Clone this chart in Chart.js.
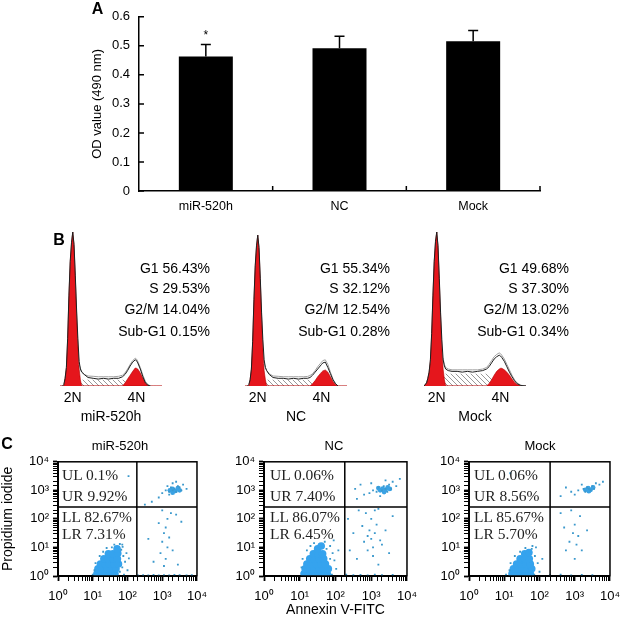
<!DOCTYPE html>
<html>
<head>
<meta charset="utf-8">
<script src="https://cdn.jsdelivr.net/npm/chart.js@4.4.1/dist/chart.umd.min.js"></script>
<style>
body { margin: 0; background: #fff; }
#fig { position: relative; width: 628px; height: 626px; overflow: hidden; font-family: Arial, 'Liberation Sans', sans-serif; color: #000; background: #fff; }
#fig canvas { position: absolute; }
.txt { position: absolute; white-space: nowrap; line-height: 1; }
.letter { font-weight: bold; font-size: 16px; transform: translate(-50%, -50%); }
.pct { font-size: 14px; transform: translate(-100%, -50%); }
.quad { font-family: 'Liberation Serif', 'Times New Roman', serif; font-size: 15.5px; color: #222; transform: translateY(-50%); }
.ctitle { font-size: 13px; transform: translate(-50%, -50%); }
</style>
</head>
<body>
<div id="fig">
  <canvas id="barA" width="628" height="240" style="left:0;top:0"></canvas>
  <canvas id="histMiR" width="110" height="203" style="left:56px;top:228px"></canvas>
  <canvas id="histNC" width="110" height="203" style="left:241px;top:228px"></canvas>
  <canvas id="histMock" width="110" height="203" style="left:420px;top:228px"></canvas>
  <canvas id="flowMiR" width="215" height="176" style="left:0;top:450px"></canvas>
  <canvas id="flowNC" width="210" height="176" style="left:215px;top:450px"></canvas>
  <canvas id="flowMock" width="203" height="176" style="left:425px;top:450px"></canvas>
</div>
<script>
// ---------- A: OD values ----------
const groups = ['miR-520h', 'NC', 'Mock'];
const odMean = [0.463, 0.492, 0.516];
const odErr = [0.042, 0.041, 0.037];
const odSig = ['*', '', ''];

// ---------- B: DNA histograms (channel, relative count) ----------
const histCh = [40, 42, 43, 44, 45, 46, 47, 48, 49, 50, 51, 52, 53, 54, 55, 56, 57, 59, 62, 66, 70, 74, 78, 82, 86, 89, 91, 93, 95, 97, 99, 100, 101, 103, 105, 107, 109, 111, 113, 116, 120];
const histTickPos = [50, 100];
const histTickText = ['2N', '4N'];

const outlineMiR = [null, 0, 1, 5, 12, 31, 59, 81, 93, 100, 92, 72, 50, 31, 16, 11, 9, 7.5, 5.5, 5, 4.5, 5, 4.5, 5, 5, 6, 7.5, 10, 13, 15.5, 17, 16.5, 15, 11, 6, 2, 0.5, 0, null, null, null];
const fitMiR = [null, null, null, null, null, null, null, null, null, null, null, null, null, null, 14, 11.5, 9.5, 7.5, 6.5, 6.3, 6, 6, 6, 6, 6.3, 7, 8.5, 11, 14, 16.5, 18, 17.5, 16, 12, 7, 3, 1, 0, null, null, null];
const g1MiR = [0, 0, 0, 5, 12, 30, 58, 80, 92, 100, 91, 70, 47, 27, 11, 4, 0, 0, 0, 0, 0, 0, 0, 0, 0, 0, 0, 0, 0, 0, 0, 0, 0, 0, 0, 0, 0, 0, 0, 0, 0];
const g2MiR = [0, 0, 0, 0, 0, 0, 0, 0, 0, 0, 0, 0, 0, 0, 0, 0, 0, 0, 0, 0, 0, 0, 0, 0, 0, 0, 2, 4.5, 7, 9.5, 11.7, 11.5, 11, 8.5, 5, 2, 0.3, 0, 0, 0, 0];
const sMiR = [0, 0, 0, 0, 0, 0, 0, 0, 0, 0, 0, 0, 3, 4, 4, 4, 4, 4, 4, 4, 4, 4, 4, 4, 4, 4, 3.8, 3, 2, 1, 0.3, 0, 0, 0, 0, 0, 0, 0, 0, 0, 0];

const outlineNC = [null, 0, 1, 4, 11, 29, 56, 78, 91, 98, 90, 70, 48, 30, 17, 12, 10, 7.5, 5.5, 5, 5, 4.5, 5, 4.5, 5, 5, 5.5, 7, 9, 11, 13, 14, 15, 15.5, 12, 8, 4, 1.5, 0, null, null];
const fitNC = [null, null, null, null, null, null, null, null, null, null, null, null, null, null, 15, 12, 10, 8, 6.5, 6.3, 6, 6, 6, 6, 6, 6.2, 6.8, 8, 10, 12.5, 14.5, 15.5, 16.5, 17, 14, 9, 4.5, 1.5, 0, null, null];
const g1NC = [0, 0, 0, 4, 11, 28, 55, 77, 90, 98, 89, 68, 45, 25, 10, 4, 0, 0, 0, 0, 0, 0, 0, 0, 0, 0, 0, 0, 0, 0, 0, 0, 0, 0, 0, 0, 0, 0, 0, 0, 0];
const g2NC = [0, 0, 0, 0, 0, 0, 0, 0, 0, 0, 0, 0, 0, 0, 0, 0, 0, 0, 0, 0, 0, 0, 0, 0, 0, 0, 0, 1.5, 3.5, 6, 8, 9, 9.8, 10.4, 9, 6, 3, 1, 0, 0, 0];
const sNC = [0, 0, 0, 0, 0, 0, 0, 0, 0, 0, 0, 0, 3, 4, 4, 4, 4, 4, 4, 4, 4, 4, 4, 4, 4, 4, 4, 3.6, 2.8, 2, 1, 0.6, 0.3, 0, 0, 0, 0, 0, 0, 0, 0];

const outlineMock = [0, 2, 5, 9, 17, 34, 59, 81, 94, 100, 91, 70, 48, 30, 17, 13, 11, 10, 9.5, 9.5, 9, 9.5, 9, 9.5, 10, 11, 12.5, 15, 17.5, 19, 20, 19.5, 18.5, 16, 12.5, 9, 6, 3.5, 1.5, 0.3, 0];
const fitMock = [null, null, null, null, null, null, null, null, null, null, null, null, null, null, 18, 14, 12, 11, 10.5, 10.5, 10.5, 10.5, 10.5, 10.5, 11, 12, 14, 16.5, 19, 20.5, 21.5, 21, 20, 17.5, 14, 10.5, 7, 4, 2, 0.5, 0];
const g1Mock = [0, 2, 5, 9, 16, 33, 58, 80, 93, 100, 90, 68, 45, 25, 11, 4, 0, 0, 0, 0, 0, 0, 0, 0, 0, 0, 0, 0, 0, 0, 0, 0, 0, 0, 0, 0, 0, 0, 0, 0, 0];
const g2Mock = [0, 0, 0, 0, 0, 0, 0, 0, 0, 0, 0, 0, 0, 0, 0, 0, 0, 0, 0, 0, 0, 0, 0, 0, 0, 0, 1.5, 4, 7, 9.5, 11, 11.5, 11.5, 10.5, 9, 7, 4.5, 2.5, 1, 0, 0];
const sMock = [0, 0, 0, 0, 0, 0, 0, 0, 0, 0, 0, 0, 4, 7, 8, 8, 8, 8, 8, 8, 8, 8, 8, 8, 8, 8, 7, 5.5, 4, 2.5, 1.2, 0.8, 0.4, 0, 0, 0, 0, 0, 0, 0, 0];

const phaseNames = ['G1', 'S', 'G2/M', 'Sub-G1'];
const phaseMiR = ['56.43%', '29.53%', '14.04%', '0.15%'];
const phaseNC = ['55.34%', '32.12%', '12.54%', '0.28%'];
const phaseMock = ['49.68%', '37.30%', '13.02%', '0.34%'];

// ---------- C: Annexin V / PI (log10 exponents) ----------
const logTicks = ['10⁰', '10¹', '10²', '10³', '10⁴'];
const quadNames = ['UL', 'UR', 'LL', 'LR'];
const quadMiR = ['0.1%', '9.92%', '82.67%', '7.31%'];
const quadNC = ['0.06%', '7.40%', '86.07%', '6.45%'];
const quadMock = ['0.06%', '8.56%', '85.67%', '5.70%'];
const gateX = [186, 182, 200];
const gateY = 263;

// dense live-cell cloud (big marks), UR cluster core (medium), single events (small)
const coreMiR = [[1.12, 0.08], [1.25, 0.08], [1.38, 0.08], [1.51, 0.08], [1.64, 0.08], [1.15, 0.25], [1.28, 0.25], [1.41, 0.25], [1.54, 0.25], [1.67, 0.25],
  [1.22, 0.42], [1.35, 0.42], [1.48, 0.42], [1.61, 0.42], [1.74, 0.42], [1.32, 0.6], [1.45, 0.6], [1.58, 0.6], [1.71, 0.6], [1.45, 0.78], [1.58, 0.78], [1.72, 0.8], [1.7, 0.95]];
const urMiR = [[3.22, 3.0], [3.3, 3.05], [3.38, 2.98], [3.45, 3.08], [3.3, 2.92], [3.5, 3.0]];
const dotsMiR = [[1.05, 0.2], [1.08, 0.45], [1.2, 0.7], [1.3, 0.85], [1.4, 0.98], [1.55, 1.0], [1.82, 0.92], [1.88, 0.7], [1.93, 0.5], [1.85, 0.3], [1.97, 0.8], [1.85, 1.1], [1.62, 1.1], [2.0, 0.2], [1.0, 0.05], [1.78, 0.15], [1.9, 0.05], [1.86, 1.02], [1.78, 1.12], [2.04, 0.62],
  [2.3, 0.02], [2.45, 0.03], [2.6, 0.02], [2.75, 0.04], [2.9, 0.02], [3.05, 0.03], [3.2, 0.02], [3.35, 0.04], [3.5, 0.03], [3.7, 0.02], [3.85, 0.03],
  [3.05, 0.35], [3.1, 0.6], [2.95, 0.8], [3.15, 1.0], [3.0, 1.2], [3.2, 1.35], [3.05, 1.5], [3.1, 1.7], [2.9, 1.85], [3.15, 2.0], [3.25, 2.2], [3.0, 2.3], [3.4, 2.15], [3.55, 1.9], [2.75, 0.5], [2.6, 1.3], [3.3, 0.9], [3.45, 0.4],
  [2.9, 2.75], [3.0, 2.9], [3.1, 3.0], [3.2, 2.95], [3.25, 3.1], [3.3, 3.0], [3.35, 3.05], [3.4, 2.95], [3.45, 3.15], [3.5, 3.1], [3.55, 3.0], [3.6, 3.2], [3.15, 3.15], [3.3, 3.25], [3.7, 3.05], [3.2, 2.85], [3.4, 3.3], [2.7, 2.6], [2.5, 2.5],
  [2.03, 3.5]];

const coreNC = [[1.12, 0.08], [1.25, 0.08], [1.38, 0.08], [1.51, 0.08], [1.64, 0.08], [1.77, 0.08], [1.15, 0.25], [1.28, 0.25], [1.41, 0.25], [1.54, 0.25], [1.67, 0.25], [1.8, 0.25],
  [1.2, 0.42], [1.33, 0.42], [1.46, 0.42], [1.59, 0.42], [1.72, 0.42], [1.28, 0.6], [1.41, 0.6], [1.54, 0.6], [1.67, 0.6], [1.38, 0.78], [1.51, 0.78], [1.64, 0.78], [1.5, 0.95], [1.6, 1.05]];
const urNC = [[3.25, 3.0], [3.32, 3.06], [3.4, 3.02], [3.46, 3.1], [3.36, 2.94], [3.52, 3.05], [3.2, 3.08]];
const dotsNC = [[1.05, 0.3], [1.08, 0.6], [1.2, 0.9], [1.4, 1.15], [1.7, 1.2], [1.85, 1.05], [1.92, 0.8], [1.97, 0.55], [2.02, 0.25], [1.95, 1.25], [1.9, 0.05], [1.75, 0.95], [1.85, 0.6], [2.08, 0.9], [1.3, 1.05],
  [2.3, 0.05], [2.5, 0.03], [2.7, 0.04], [2.9, 0.02], [3.1, 0.05], [3.3, 0.03], [3.6, 0.04], [2.4, 0.9], [2.5, 1.5], [2.35, 2.0], [2.6, 0.6], [2.8, 1.2], [2.9, 1.4], [2.95, 1.6], [3.0, 1.3], [3.05, 1.0], [3.1, 1.5], [3.15, 1.8], [3.0, 2.0], [2.85, 2.2], [3.2, 2.35], [3.05, 0.7], [3.2, 0.4], [3.3, 1.1], [3.4, 1.6], [3.5, 0.8], [3.6, 2.1], [2.75, 1.75], [2.9, 0.9], [3.1, 2.3], [3.25, 1.25], [2.65, 2.3],
  [2.6, 2.7], [2.8, 2.85], [2.95, 2.9], [3.05, 3.0], [3.15, 2.95], [3.2, 3.1], [3.3, 3.0], [3.35, 3.15], [3.4, 3.05], [3.45, 2.95], [3.5, 3.2], [3.55, 3.05], [3.6, 3.3], [3.7, 3.15], [3.8, 3.4], [2.7, 3.2], [2.55, 3.05], [3.25, 2.8], [3.4, 3.35], [3.0, 3.25]];

const coreMock = [[1.22, 0.08], [1.35, 0.08], [1.48, 0.08], [1.61, 0.08], [1.74, 0.08], [1.26, 0.25], [1.39, 0.25], [1.52, 0.25], [1.65, 0.25], [1.78, 0.25],
  [1.35, 0.42], [1.48, 0.42], [1.61, 0.42], [1.74, 0.42], [1.45, 0.6], [1.58, 0.6], [1.71, 0.6], [1.58, 0.78], [1.7, 0.82]];
const urMock = [[3.3, 3.02], [3.38, 3.08], [3.45, 3.02], [3.52, 3.1], [3.4, 2.97]];
const dotsMock = [[1.15, 0.2], [1.18, 0.45], [1.3, 0.7], [1.45, 0.85], [1.6, 0.98], [1.78, 0.95], [1.87, 0.7], [1.95, 0.45], [2.0, 0.15], [1.9, 1.0], [2.08, 0.6], [1.05, 0.05], [1.85, 0.05], [1.8, 1.05],
  [2.3, 0.03], [2.6, 0.05], [2.9, 0.02], [3.2, 0.04], [3.5, 0.03], [2.75, 0.9], [2.85, 1.2], [2.95, 1.5], [3.0, 1.8], [3.1, 1.4], [3.05, 1.1], [3.2, 0.9], [2.7, 1.7], [3.15, 2.1], [2.9, 2.3], [3.35, 1.6], [2.6, 2.2], [3.0, 0.6],
  [2.6, 2.8], [2.9, 2.95], [3.1, 3.0], [3.25, 3.05], [3.3, 2.95], [3.35, 3.1], [3.4, 3.05], [3.45, 3.0], [3.5, 3.15], [3.55, 3.05], [3.6, 3.25], [3.7, 3.2], [3.2, 3.2], [3.0, 2.85], [3.8, 3.3], [2.75, 3.1],
  [1.17, 3.6]];

Chart.defaults.font.family = "Arial, 'Liberation Sans', sans-serif";
Chart.defaults.color = '#000';

const fig = document.getElementById('fig');
function addText(cls, text, x, y) {
  const d = document.createElement('div');
  d.className = 'txt ' + cls;
  d.textContent = text;
  d.style.left = x + 'px';
  d.style.top = y + 'px';
  fig.appendChild(d);
}

// ---------- panel A ----------
const innerTicks = {
  id: 'innerTicks',
  afterDraw(chart) {
    const {ctx, chartArea: a, scales: {x, y}} = chart;
    const step = x.getPixelForValue(1) - x.getPixelForValue(0);
    ctx.save();
    ctx.strokeStyle = '#000';
    ctx.lineWidth = 1.5;
    ctx.beginPath();
    y.ticks.forEach(t => {
      const py = y.getPixelForValue(t.value);
      ctx.moveTo(a.left, py);
      ctx.lineTo(a.left + 5, py);
    });
    groups.forEach((g, i) => {
      const px = x.getPixelForValue(i) + step / 2;
      ctx.moveTo(px, a.bottom);
      ctx.lineTo(px, a.bottom - 5);
    });
    ctx.stroke();
    ctx.restore();
  }
};

const errorBars = {
  id: 'errorBars',
  afterDatasetsDraw(chart) {
    const {ctx, scales: {y}} = chart;
    ctx.save();
    ctx.strokeStyle = '#000';
    ctx.fillStyle = '#000';
    ctx.lineWidth = 1.5;
    chart.getDatasetMeta(0).data.forEach((bar, i) => {
      const top = y.getPixelForValue(odMean[i] + odErr[i]);
      ctx.beginPath();
      ctx.moveTo(bar.x, bar.y);
      ctx.lineTo(bar.x, top);
      ctx.moveTo(bar.x - 5, top);
      ctx.lineTo(bar.x + 5, top);
      ctx.stroke();
      if (odSig[i]) {
        ctx.font = "12px Arial, 'Liberation Sans', sans-serif";
        ctx.textAlign = 'center';
        ctx.fillText(odSig[i], bar.x, top - 5);
      }
    });
    ctx.restore();
  }
};

new Chart(document.getElementById('barA'), {
  type: 'bar',
  data: {
    labels: groups,
    datasets: [{
      data: odMean,
      backgroundColor: '#000',
      categoryPercentage: 1,
      barPercentage: 0.404
    }]
  },
  options: {
    responsive: false,
    animation: false,
    layout: {padding: {top: 7, right: 88, left: 0, bottom: 0}},
    plugins: {legend: {display: false}, tooltip: {enabled: false}},
    scales: {
      x: {
        grid: {display: false, drawTicks: false},
        border: {display: true, color: '#000', width: 1.5},
        ticks: {padding: 8, font: {size: 12.5}},
        afterFit: s => { s.height = 49; }
      },
      y: {
        min: 0,
        max: 0.6,
        grid: {display: false, drawTicks: false},
        border: {display: true, color: '#000', width: 1.5},
        ticks: {stepSize: 0.1, padding: 9, font: {size: 13}},
        title: {display: true, text: 'OD value (490 nm)', font: {size: 13}, padding: {top: 90, bottom: 0}},
        afterFit: s => { s.width = 139; }
      }
    }
  },
  plugins: [innerTicks, errorBars]
});

// ---------- panel B ----------
function hatch() {
  const c = document.createElement('canvas');
  c.width = 5;
  c.height = 5;
  const g = c.getContext('2d');
  g.strokeStyle = '#8c8c8c';
  g.lineWidth = 0.9;
  g.beginPath();
  g.moveTo(0, 0); g.lineTo(5, 5);
  g.moveTo(-1, 4); g.lineTo(1, 6);
  g.moveTo(4, -1); g.lineTo(6, 1);
  g.stroke();
  return g.createPattern(c, 'repeat');
}

function histChart(id, title, outline, fit, g1, g2, s) {
  const pts = arr => histCh.map((c, i) => ({x: c, y: arr[i]}));
  return new Chart(document.getElementById(id), {
    type: 'line',
    data: {
      datasets: [
        {data: pts(outline), borderColor: '#1e1e1e', borderWidth: 1, fill: false},
        {data: pts(fit), borderColor: '#a0a0a0', borderWidth: 1, fill: false},
        {data: pts(g1), borderColor: '#b30000', borderWidth: 0.6, backgroundColor: '#e5161c', fill: 'origin'},
        {data: pts(g2), borderColor: '#b30000', borderWidth: 0.6, backgroundColor: '#e5161c', fill: 'origin'},
        {data: pts(s), borderColor: 'rgba(0,0,0,0)', borderWidth: 0, backgroundColor: hatch(), fill: 'origin'}
      ]
    },
    options: {
      responsive: false,
      animation: false,
      layout: {padding: {left: 4, right: 4, top: 4, bottom: 0}},
      plugins: {legend: {display: false}, tooltip: {enabled: false}},
      elements: {point: {radius: 0}, line: {tension: 0}},
      scales: {
        x: {
          type: 'linear',
          min: 40,
          max: 120,
          grid: {display: false, drawTicks: false},
          border: {display: false},
          afterBuildTicks: sc => { sc.ticks = histTickPos.map(v => ({value: v})); },
          afterFit: sc => { sc.height = 45; },
          ticks: {padding: 4, font: {size: 14}, callback: v => histTickText[histTickPos.indexOf(v)]},
          title: {display: true, text: title, font: {size: 14}, padding: {top: 0, bottom: 5}}
        },
        y: {display: false, min: 0, max: 100}
      }
    }
  });
}

histChart('histMiR', groups[0], outlineMiR, fitMiR, g1MiR, g2MiR, sMiR);
histChart('histNC', groups[1], outlineNC, fitNC, g1NC, g2NC, sNC);
histChart('histMock', groups[2], outlineMock, fitMock, g1Mock, g2Mock, sMock);

const phaseRight = [210, 390, 569];
const phaseY = [268, 288, 308.5, 331];
[phaseMiR, phaseNC, phaseMock].forEach((vals, k) => {
  vals.forEach((v, i) => addText('pct', phaseNames[i] + ' ' + v, phaseRight[k], phaseY[i]));
});

// ---------- panel C ----------
function isDecade(v) {
  const e = Math.round(Math.log10(v));
  return Math.abs(v - Math.pow(10, e)) < 1e-9 * Math.pow(10, e);
}
function logLabel(v) {
  return isDecade(v) ? logTicks[Math.round(Math.log10(v))] : '';
}
function logAxis(extra) {
  return Object.assign({
    type: 'logarithmic',
    min: 1,
    max: 10000,
    grid: {
      display: true, drawOnChartArea: false, drawTicks: true, tickLength: 5,
      color: '#000', tickColor: '#000',
      tickWidth: c => (c.tick && isDecade(c.tick.value)) ? 1.8 : 1
    },
    border: {display: true, color: '#000', width: 2}
  }, extra);
}

const quadLines = {
  id: 'quadLines',
  afterDatasetsDraw(chart, args, opts) {
    const {ctx, chartArea: a, scales: {x, y}} = chart;
    const px = x.getPixelForValue(opts.gx);
    const py = y.getPixelForValue(opts.gy);
    ctx.save();
    ctx.strokeStyle = '#000';
    ctx.lineWidth = 1.5;
    ctx.strokeRect(a.left, a.top, a.right - a.left, a.bottom - a.top);
    ctx.beginPath();
    ctx.moveTo(px, a.top); ctx.lineTo(px, a.bottom);
    ctx.moveTo(a.left, py); ctx.lineTo(a.right, py);
    ctx.stroke();
    ctx.restore();
  }
};

function flowChart(id, core, ur, dots, gx, yWidth, rightPad, yTitle, xTitle) {
  const toPts = arr => arr.map(p => ({x: Math.pow(10, p[0]), y: Math.pow(10, p[1])}));
  return new Chart(document.getElementById(id), {
    type: 'scatter',
    data: {
      datasets: [
        {data: toPts(dots), pointRadius: 1.3, pointStyle: 'rect', backgroundColor: '#3a98cc', borderWidth: 0},
        {data: toPts(ur), pointRadius: 2.4, backgroundColor: '#3aa2e4', borderWidth: 0},
        {data: toPts(core), pointRadius: 3.8, backgroundColor: '#35a3ee', borderWidth: 0}
      ]
    },
    options: {
      responsive: false,
      animation: false,
      layout: {padding: {top: 8, right: rightPad, left: 0, bottom: 0}},
      plugins: {legend: {display: false}, tooltip: {enabled: false}, quadLines: {gx: gx, gy: gateY}},
      scales: {
        x: logAxis({
          ticks: {autoSkip: false, maxRotation: 0, padding: 8, font: {size: 13}, callback: logLabel},
          title: {display: !!xTitle, text: xTitle || '', font: {size: 14}, padding: {top: 0, bottom: 7}},
          afterFit: s => { s.height = 50; }
        }),
        y: logAxis({
          ticks: {autoSkip: false, padding: 4, font: {size: 13}, callback: logLabel},
          title: {display: !!yTitle, text: yTitle || '', font: {size: 14}, padding: {top: 0, bottom: 0}},
          afterFit: s => { s.width = yWidth; }
        })
      }
    },
    plugins: [quadLines]
  });
}

flowChart('flowMiR', coreMiR, urMiR, dotsMiR, gateX[0], 58, 9, 'Propidium iodide', '');
flowChart('flowNC', coreNC, urNC, dotsNC, gateX[1], 49, 14, '', 'Annexin V-FITC');
flowChart('flowMock', coreMock, urMock, dotsMock, gateX[2], 44, 12, '', '');

const ctitleX = [120, 334, 540];
groups.forEach((g, k) => addText('ctitle', g, ctitleX[k], 445));

const quadLeft = [62, 270, 474];
const quadY = [475, 496, 517, 534];
[quadMiR, quadNC, quadMock].forEach((vals, k) => {
  vals.forEach((v, i) => addText('quad', quadNames[i] + ' ' + v, quadLeft[k], quadY[i]));
});

// panel letters
addText('letter', 'A', 97.5, 8.5);
addText('letter', 'B', 59, 240);
addText('letter', 'C', 7, 444);
</script>
</body>
</html>
